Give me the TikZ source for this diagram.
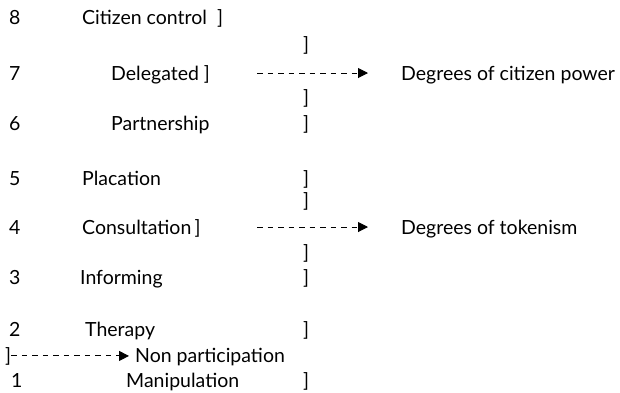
\documentclass[tikz,border=0pt]{standalone}
\usepackage{fontspec}
\setmainfont{Lato}
\usetikzlibrary{arrows.meta}
\begin{document}
\begin{tikzpicture}[x=1pt,y=-1pt,
  lbl/.style={anchor=base west, inner sep=0pt, font=\fontsize{19.5}{22}\selectfont},
  brk/.style={lbl},
  dasharrow/.style={dash pattern=on 5.5pt off 5pt, line width=1pt,
    -{Triangle[length=10pt,width=10pt]}}]
\useasboundingbox (0,0) rectangle (620,392);
% rung numbers
\node[lbl] (n8) at (9,24)  {8};
\node[lbl] (n7) at (9,80)  {7};
\node[lbl] (n6) at (9,130) {6};
\node[lbl] (n5) at (9,185) {5};
\node[lbl] (n4) at (9,234) {4};
\node[lbl] (n3) at (9,284) {3};
\node[lbl] (n2) at (9,336) {2};
\node[lbl] (n1) at (11,387) {1};
% rung names
\node[lbl] (r8) at (82,24)  {Citizen control\ \ ]};
\node[lbl] (r7) at (111,80) {Delegated ]};
\node[lbl] (r6) at (111,130) {Partnership};
\node[lbl] (r5) at (82,185) {Placation};
\node[lbl] (r4) at (82,234) {Consultation\,]};
\node[lbl] (r3) at (80,284) {Informing};
\node[lbl] (r2) at (85,336) {Therapy};
\node[lbl] (r1) at (126,387) {Manipulation};
% right-hand brackets
\node[brk] (b1) at (303,51)  {]};
\node[brk] (b2) at (303,104) {]};
\node[brk] (b3) at (303,130) {]};
\node[brk] (b4) at (303,185) {]};
\node[brk] (b5) at (303,207) {]};
\node[brk] (b6) at (303,259) {]};
\node[brk] (b7) at (303,284) {]};
\node[brk] (b8) at (303,336) {]};
\node[brk] (b9) at (303,387) {]};
% group labels
\node[lbl] (power) at (401,80)  {Degrees of citizen power};
\node[lbl] (token) at (401,234) {Degrees of tokenism};
\node[brk] (b0) at (5,362) {]};
\node[lbl] (nonp) at (135,362) {Non participation};
% arrows
\coordinate (s7) at (257,73);
\coordinate (s4) at (257,227);
\draw[dasharrow, shorten >=33pt] (s7) -- (s7 -| power.west);
\draw[dasharrow, shorten >=33pt] (s4) -- (s4 -| token.west);
\draw[dasharrow, shorten >=6pt] (b0.east) -- (b0.east -| nonp.west);
\end{tikzpicture}
\end{document}
